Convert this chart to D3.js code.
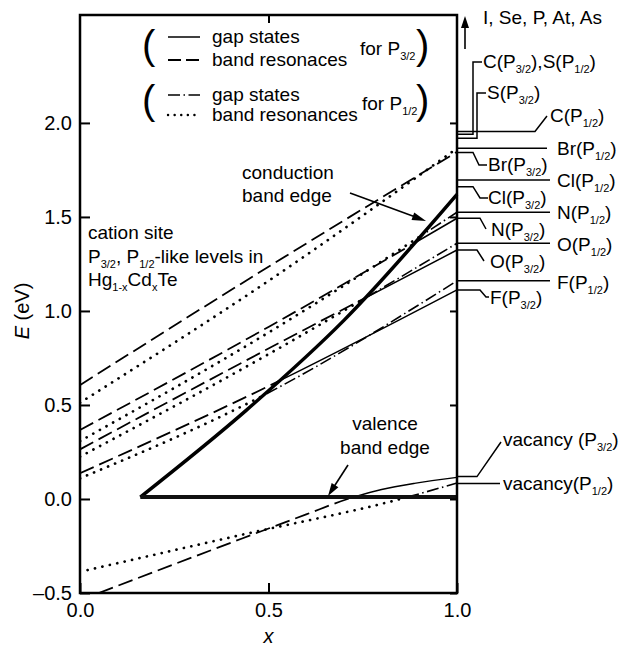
<!DOCTYPE html>
<html><head><meta charset="utf-8">
<script src="https://cdn.jsdelivr.net/npm/d3@7"></script>
<style>
body{margin:0;background:#fff;}
text{font-family:"Liberation Sans",Arial,Helvetica,sans-serif;fill:#000;}
</style>
</head><body>
<svg id="c" width="619" height="647"></svg>
<script>
// ---------------- data ----------------
const xTicks = [0.0, 0.5, 1.0];
const yTicks = [-0.5, 0.0, 0.5, 1.0, 1.5, 2.0];
const levelX = [0.0, 0.5, 1.0];            // x where level energies are read
const impurities = ["Br", "N", "O", "F"];
const brP32 = [0.606, 1.235, 1.846];
const nP32  = [0.367, 0.915, 1.493];
const oP32  = [0.264, 0.800, 1.324];
const fP32  = [0.137, 0.600, 1.112];
const brP12 = [0.512, 1.160, 1.865];
const nP12  = [0.308, 0.885, 1.525];
const oP12  = [0.225, 0.770, 1.360];
const fP12  = [0.110, 0.565, 1.160];
const cbX = [0.16, 0.44, 0.70, 1.00];
const cbE = [0.01, 0.47, 0.95, 1.62];
const vbX = [0.16, 1.00];
const vbE = [0.01, 0.01];
const vacP32X = [0.05, 0.43, 0.60, 0.71, 0.80, 0.887, 1.00];
const vacP32E = [-0.50, -0.21, -0.082, 0.0, 0.05, 0.083, 0.115];
const vacP12X = [0.02, 0.43, 0.85, 1.00];
const vacP12E = [-0.378, -0.19, 0.0, 0.085];
// right-hand level labels (energy at x = 1)
const labelNames = ["C(P_{1/2})","C(P_{3/2}),S(P_{1/2})","S(P_{3/2})","Br(P_{1/2})","Br(P_{3/2})",
  "Cl(P_{1/2})","Cl(P_{3/2})","N(P_{1/2})","N(P_{3/2})","O(P_{1/2})","O(P_{3/2})",
  "F(P_{1/2})","F(P_{3/2})","vacancy (P_{3/2})","vacancy(P_{1/2})"];
const labelE = [1.954,1.940,1.918,1.865,1.843,1.697,1.661,1.525,1.493,1.360,1.324,1.160,1.112,0.119,0.083];

// ---------------- layout ----------------
const W = 619, H = 647;
const FONT = 19, TICKFONT = 20, SUB = 11, SUBDY = 5;
const svg = d3.select("#c");
const x = d3.scaleLinear().domain([0, 1]).range([80, 457]);
const y = d3.scaleLinear().domain([-0.5, 2.574]).range([593, 15]);

function parse(s) {
  const out = []; const re = /_\{([^}]*)\}/g; let last = 0, m;
  while ((m = re.exec(s))) { if (m.index > last) out.push([s.slice(last, m.index), "n"]); out.push([m[1], "s"]); last = re.lastIndex; }
  if (last < s.length) out.push([s.slice(last), "n"]);
  return out;
}
function rich(g, px, py, parts, size, anchor) {
  const t = g.append("text").attr("x", px).attr("y", py).attr("font-size", size).attr("text-anchor", anchor || "start");
  let off = 0;
  parts.forEach(([s, k]) => {
    const want = k === "s" ? SUBDY : 0;
    const ts = t.append("tspan").text(s);
    if (want - off !== 0) ts.attr("dy", want - off);
    off = want;
    if (k === "s") ts.attr("font-size", SUB);
    if (k === "i") ts.attr("font-style", "italic");
  });
  return t;
}

const defs = svg.append("defs");
const line = d3.line().x(d => x(d[0])).y(d => y(d[1])).curve(d3.curveMonotoneX);
const cbPts = cbX.map((v, i) => [v, cbE[i]]);
const gapD = line(cbPts) + `L${x(1.05)},${y(cbE[cbE.length - 1])}L${x(1.05)},${y(vbE[1])}L${x(vbX[0])},${y(vbE[0])}Z`;
defs.append("clipPath").attr("id", "gap").append("path").attr("d", gapD);
defs.append("clipPath").attr("id", "res").append("path")
  .attr("d", `M${x(0)},${y(2.574)}H${x(1)}V${y(-0.5)}H${x(0)}Z` + gapD).attr("clip-rule", "evenodd");

const st = {
  p32res: { dash: "15,6", w: 1.8, cap: "butt" },
  p32gap: { dash: null, w: 1.5, cap: "butt" },
  p12res: { dash: "0.1,7.5", w: 2.7, cap: "round" },
  p12gap: { dash: "12,3.5,1.5,3.5", w: 1.6, cap: "butt" }
};
const stLegend = {
  p32res: { dash: "13,5", w: 1.8, cap: "butt" },
  p12res: { dash: "0.1,6.5", w: 2.4, cap: "round" }
};
function styled(sel, s) {
  sel.attr("fill", "none").attr("stroke", "#000").attr("stroke-width", s.w).attr("stroke-linecap", s.cap);
  if (s.dash) sel.attr("stroke-dasharray", s.dash);
  return sel;
}
const gLines = svg.append("g");
function level(pts, resS, gapS) {
  styled(gLines.append("path").attr("d", line(pts)).attr("clip-path", "url(#res)"), resS);
  styled(gLines.append("path").attr("d", line(pts)).attr("clip-path", "url(#gap)"), gapS);
}
[brP32, nP32, oP32, fP32].forEach(v => level(levelX.map((xv, j) => [xv, v[j]]), st.p32res, st.p32gap));
[brP12, nP12, oP12, fP12].forEach(v => level(levelX.map((xv, j) => [xv, v[j]]), st.p12res, st.p12gap));
level(vacP32X.map((v, i) => [v, vacP32E[i]]), st.p32res, st.p32gap);
level(vacP12X.map((v, i) => [v, vacP12E[i]]), st.p12res, st.p12gap);

// band edges
svg.append("path").attr("d", line(cbPts)).attr("fill", "none").attr("stroke", "#000").attr("stroke-width", 3.5).attr("stroke-linejoin", "round");
svg.append("path").attr("d", d3.line().x(d => x(d[0])).y(d => y(d[1]))(vbX.map((v, i) => [v, vbE[i]])))
  .attr("fill", "none").attr("stroke", "#111").attr("stroke-width", 4);

// axes
const fmt = v => d3.format(".1f")(v).replace("\u2212", "\u2013");
const axL = svg.append("g").attr("transform", `translate(${x(0)},0)`)
  .call(d3.axisLeft(y).tickValues(yTicks).tickSize(-10).tickPadding(8).tickFormat(fmt));
const axB = svg.append("g").attr("transform", `translate(0,${y(-0.5)})`)
  .call(d3.axisBottom(x).tickValues(xTicks).tickSize(-10).tickPadding(10).tickFormat(fmt));
const axR = svg.append("g").attr("transform", `translate(${x(1)},0)`)
  .call(d3.axisRight(y).tickValues(yTicks).tickSize(-7).tickFormat(""));
const axT = svg.append("g").attr("transform", `translate(0,${y(2.574)})`)
  .call(d3.axisTop(x).tickValues([0.5]).tickSize(-8).tickFormat(""));
[axL, axB, axR, axT].forEach(a => {
  a.select(".domain").remove();
  a.selectAll(".tick line").attr("stroke", "#000").attr("stroke-width", 2);
  a.selectAll("text").attr("font-size", TICKFONT).attr("fill", "#000")
    .style("font-family", '"Liberation Sans",Arial,Helvetica,sans-serif');
});
svg.append("rect").attr("x", x(0)).attr("y", y(2.574)).attr("width", x(1) - x(0)).attr("height", y(-0.5) - y(2.574))
  .attr("fill", "none").attr("stroke", "#000").attr("stroke-width", 2.5);

// axis titles
rich(svg, x(0.5), 643, [["x", "i"]], TICKFONT, "middle");
const yt = svg.append("g").attr("transform", `translate(29,${(y(-0.5) + y(2.574)) / 2 + 7}) rotate(-90)`);
rich(yt, 0, 0, [["E", "i"], [" (eV)", "n"]], TICKFONT, "middle");

// arrows
function arrow(x1, y1, x2, y2, len, wid) {
  const dx = x2 - x1, dy = y2 - y1, L = Math.hypot(dx, dy), ux = dx / L, uy = dy / L;
  const bx = x2 - ux * len, by = y2 - uy * len;
  svg.append("line").attr("x1", x1).attr("y1", y1).attr("x2", bx + ux * 2).attr("y2", by + uy * 2)
    .attr("stroke", "#000").attr("stroke-width", 1.6);
  svg.append("path").attr("d", `M${x2},${y2}L${bx - uy * wid / 2},${by + ux * wid / 2}L${bx + uy * wid / 2},${by - ux * wid / 2}Z`).attr("fill", "#000");
}
arrow(350, 193, 426, 221, 14, 8);
arrow(348, 465, 328, 496, 13, 8);
arrow(465, 49, 465, 16, 12, 8);

// annotations
rich(svg, 242, 179, [["conduction", "n"]], FONT);
rich(svg, 242, 202, [["band edge", "n"]], FONT);
rich(svg, 385, 430, [["valence", "n"]], FONT, "middle");
rich(svg, 385, 454, [["band edge", "n"]], FONT, "middle");
rich(svg, 88, 239, [["cation site", "n"]], FONT);
rich(svg, 88, 263, parse("P_{3/2}, P_{1/2}-like levels in"), FONT);
rich(svg, 88, 286, parse("Hg_{1-x}Cd_{x}Te"), FONT);
rich(svg, 483, 24, [["I, Se, P, At, As", "n"]], FONT);

// legend
const lg = svg.append("g");
rich(lg, 142, 59, [["(", "n"]], 40);
rich(lg, 416, 59, [[")", "n"]], 40);
rich(lg, 142, 114, [["(", "n"]], 40);
rich(lg, 416, 114, [[")", "n"]], 40);
const samp = [[37, st.p32gap], [60, stLegend.p32res], [95, st.p12gap], [115, stLegend.p12res]];
samp.forEach(([yy, s]) => styled(lg.append("line").attr("x1", 168).attr("x2", 200).attr("y1", yy).attr("y2", yy), s));
rich(lg, 212, 43, [["gap states", "n"]], FONT);
rich(lg, 212, 66, [["band resonaces", "n"]], FONT);
rich(lg, 212, 101, [["gap states", "n"]], FONT);
rich(lg, 212, 121, [["band resonances", "n"]], FONT);
rich(lg, 360, 55, parse("for P_{3/2}"), FONT);
rich(lg, 362, 110, parse("for P_{1/2}"), FONT);

// right-side level labels with leaders (pixel layout)
const leaderLayout = [
  { pts: [[535, null], [547, 116]], tx: 550, ty: 122 },
  { pts: [[473, null], [473, 62], [482, 62]], tx: 483, ty: 68 },
  { pts: [[477, null], [477, 93], [486, 93]], tx: 487, ty: 99 },
  { pts: [[547, null]], tx: 557, ty: 155 },
  { pts: [[473, null], [479, 165], [487, 165]], tx: 488, ty: 171 },
  { pts: [[550, null]], tx: 557, ty: 187 },
  { pts: [[473, null], [480, 198], [488, 198]], tx: 488, ty: 204 },
  { pts: [[550, null]], tx: 557, ty: 219 },
  { pts: [[480, null], [486, 229]], tx: 491, ty: 236 },
  { pts: [[550, null]], tx: 557, ty: 251 },
  { pts: [[477, null], [484, 261]], tx: 490, ty: 268 },
  { pts: [[550, null]], tx: 557, ty: 289 },
  { pts: [[480, null], [486, 297], [489, 297]], tx: 490, ty: 304 },
  { pts: [[477, null], [501, 442]], tx: 503, ty: 446 },
  { pts: [[500, null]], tx: 503, ty: 490 }
];
const gl = svg.append("g");
labelNames.forEach((name, i) => {
  const L = leaderLayout[i], ye = y(labelE[i]);
  let d = `M${x(1)},${ye}`;
  L.pts.forEach(([px, py]) => { d += `L${px},${py === null ? ye : py}`; });
  gl.append("path").attr("d", d).attr("fill", "none").attr("stroke", "#000").attr("stroke-width", 1.5);
  rich(gl, L.tx, L.ty, parse(name), FONT);
});
</script>
</body></html>
